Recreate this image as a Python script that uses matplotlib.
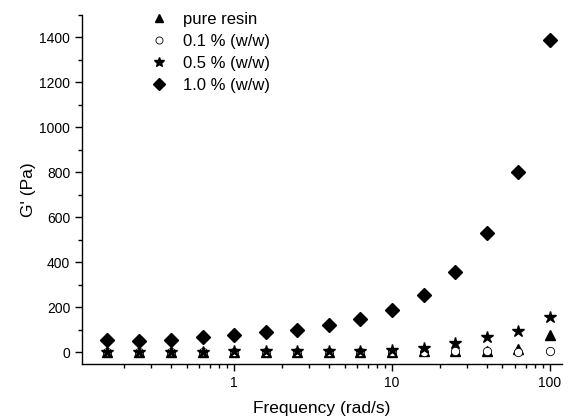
import matplotlib

matplotlib.use("Agg")
import matplotlib.pyplot as plt
from matplotlib.ticker import MultipleLocator, FixedLocator, LogLocator, NullFormatter

plt.rcParams["font.family"] = ["Liberation Sans", "DejaVu Sans"]

# angular frequency (rad/s), 5 points per decade
freq = [0.158, 0.251, 0.398, 0.631, 1.0, 1.585, 2.51, 3.98, 6.31, 10.0,
        15.85, 25.1, 39.8, 63.1, 100.0]

# storage modulus G' (Pa)
g_pure = [0, 0, 0, 0, 0, 0, 0, 0, 1, 2, 3, 4, 4, 15, 75]
g_01 = [0, 0, 0, 0, 0, 0, 0, 0, 0, 1, 2, 4, 5, 2, 7]
g_05 = [2, 2, 2, 2, 3, 3, 3, 3, 5, 9, 19, 40, 67, 93, 155]
g_10 = [53, 49, 54, 66, 76, 89, 99, 120, 147, 188, 254, 358, 530, 802, 1390]

labels = ["pure resin", "0.1 % (w/w)", "0.5 % (w/w)", "1.0 % (w/w)"]

fig = plt.figure(figsize=(5.72, 4.17), dpi=100)
ax = fig.add_axes([0.1434, 0.127, 0.8391, 0.837])

h1, = ax.plot(freq, g_pure, "^", color="black", ms=7, ls="none")
h2, = ax.plot(freq, g_01, "o", mfc="white", mec="black", mew=0.6, ms=6, ls="none")
h3, = ax.plot(freq, g_05, "*", color="black", ms=9, ls="none")
h4, = ax.plot(freq, g_10, "D", color="black", ms=7, ls="none")

ax.set_xscale("log")
ax.set_xlim(0.109, 119)
ax.set_ylim(-53, 1500)

ax.yaxis.set_major_locator(FixedLocator([0, 200, 400, 600, 800, 1000, 1200, 1400]))
ax.yaxis.set_minor_locator(MultipleLocator(100))
ax.xaxis.set_major_locator(FixedLocator([1, 10, 100]))
ax.xaxis.set_minor_locator(LogLocator(base=10, subs=range(2, 10)))
ax.xaxis.set_minor_formatter(NullFormatter())
ax.set_xticklabels(["1", "10", "100"])

for s in ("top", "right"):
    ax.spines[s].set_visible(False)
for s in ("left", "bottom"):
    ax.spines[s].set_linewidth(1.0)

ax.tick_params(which="major", direction="out", length=5, width=1, labelsize=10)
ax.tick_params(which="minor", direction="out", length=3, width=1)

ax.set_xlabel("Frequency (rad/s)", fontsize=12.5, labelpad=8)
ax.set_ylabel("G' (Pa)", fontsize=12.5, labelpad=2)

leg = fig.legend([h1, h2, h3, h4], labels, loc="upper left",
                 bbox_to_anchor=(0.264, 0.972), frameon=False, fontsize=12,
                 handletextpad=0.9, labelspacing=0.42, borderpad=0,
                 handlelength=1.0, borderaxespad=0, markerscale=0.85)

fig.savefig("out.png", dpi=100)
